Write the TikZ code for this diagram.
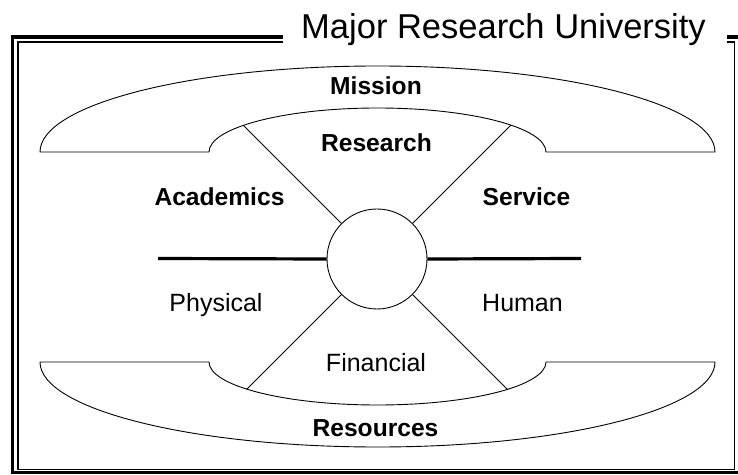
\documentclass[tikz,border=0pt]{standalone}
\usepackage{fontspec}
\setmainfont{Liberation Sans}
\begin{document}
\begin{tikzpicture}[x=1pt,y=1pt,
  thinline/.style={line width=0.9pt, line join=round},
  axisline/.style={line width=3.2pt},
  boldlabel/.style={font=\fontsize{24.6}{28}\selectfont\bfseries, inner sep=0pt, anchor=base},
  plainlabel/.style={font=\fontsize{25}{28}\selectfont, inner sep=0pt, anchor=base},
  titlelabel/.style={font=\fontsize{34.5}{38}\selectfont, inner sep=0pt, anchor=base}]
\useasboundingbox (0,0) rectangle (738,474);

% double frame, open at the top for the title
\draw[line width=3.6pt] (283,437) -- (12.5,437) -- (12.5,1.5) -- (741,1.5) -- (741,437) -- (727,437);
\draw[line width=1.4pt] (283,432) -- (18,432) -- (18,4.5) -- (734.5,4.5) -- (734.5,432) -- (727,432);
\node[titlelabel] (title) at (503.5,435.7) {Major Research University};

% upper band (mission)
\draw[thinline] (40,322) arc[start angle=180, end angle=0, x radius=337.5, y radius=86]
  -- (546,322) arc[start angle=0, end angle=180, x radius=168.5, y radius=44] -- cycle;

% lower band (resources)
\draw[thinline] (40,112) arc[start angle=180, end angle=360, x radius=337.5, y radius=85]
  -- (546,112) arc[start angle=0, end angle=-180, x radius=168.5, y radius=43] -- cycle;

% hub and spokes
\node[draw, thinline, circle, minimum size=100pt, inner sep=0pt] (hub) at (377,215) {};
\coordinate (ul) at (243.4,348.6);
\coordinate (ur) at (510.9,348.9);
\coordinate (ll) at (246.8,84.8);
\coordinate (lr) at (507.4,84.6);
\draw[thinline] (hub.135) -- (ul);
\draw[thinline] (hub.45) -- (ur);
\draw[thinline] (hub.225) -- (ll);
\draw[thinline] (hub.315) -- (lr);

% horizontal axis
\coordinate (axl) at (158,215.5);
\coordinate (axr) at (581,215.5);
\draw[axisline] (axl) -- (hub.west);
\draw[axisline] (hub.east) -- (axr);

% labels
\node[boldlabel] (mission) at (376,379) {Mission};
\node[boldlabel] (research) at (376.5,322.5) {Research};
\node[boldlabel] (academics) at (219.5,268.5) {Academics};
\node[boldlabel] (service) at (526.5,268.5) {Service};
\node[plainlabel] (physical) at (216,162) {Physical};
\node[plainlabel] (human) at (522.5,162) {Human};
\node[plainlabel] (financial) at (376,103) {Financial};
\node[boldlabel] (resources) at (375.5,38) {Resources};
\end{tikzpicture}
\end{document}
